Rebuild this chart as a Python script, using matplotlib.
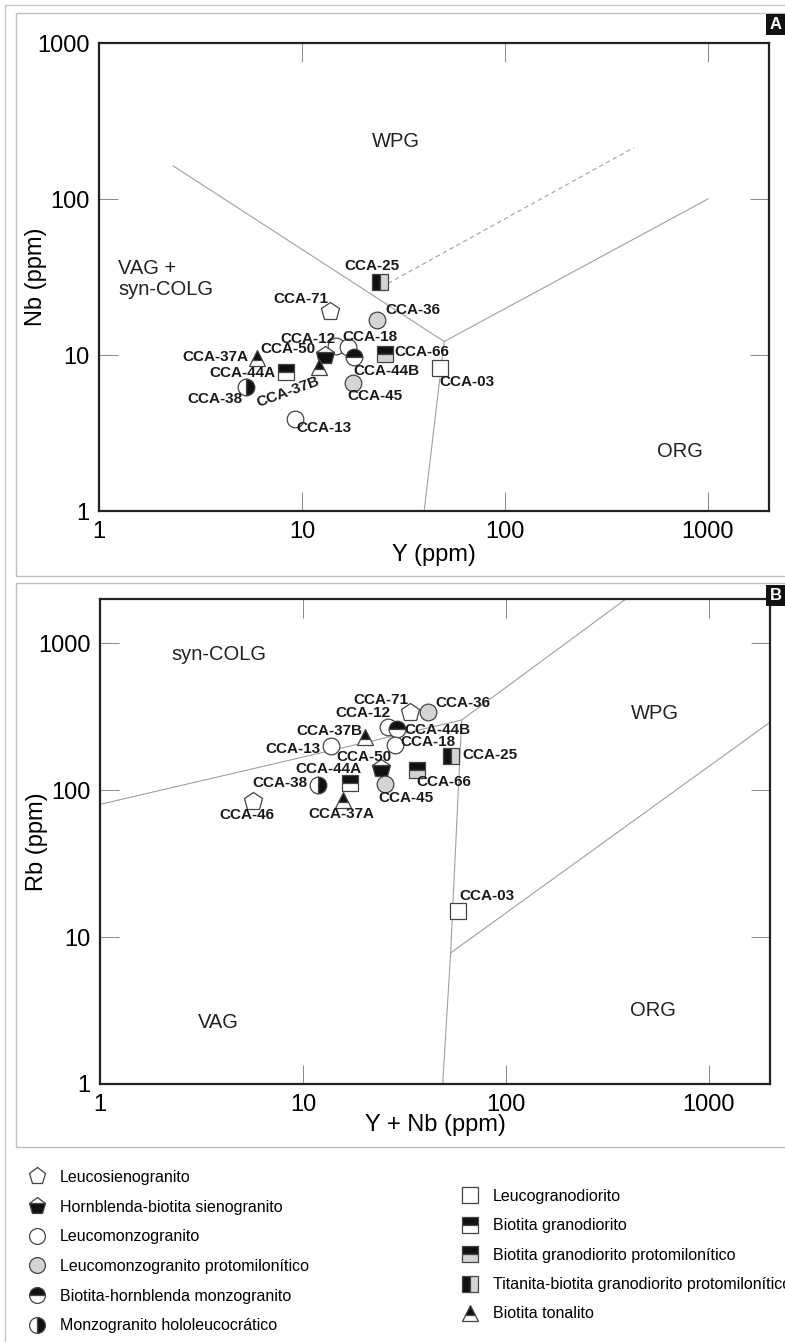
import matplotlib
matplotlib.use("Agg")
import matplotlib.pyplot as plt
from matplotlib import font_manager
from matplotlib.lines import Line2D
from matplotlib.patches import Rectangle
from matplotlib.ticker import FixedLocator, FixedFormatter, NullLocator

plt.rcParams['font.family'] = ['Liberation Sans', 'DejaVu Sans']

installed = {f.name for f in font_manager.fontManager.ttflist}
if 'Liberation Sans Narrow' in installed:
    region_font, region_size = 'Liberation Sans Narrow', 17
else:
    region_font, region_size = 'Liberation Sans', 14.5

# ---- rock types (legend order) ----
rock_names = ['Leucosienogranito', 'Hornblenda-biotita sienogranito', 'Leucomonzogranito',
              'Leucomonzogranito protomilonítico', 'Biotita-hornblenda monzogranito',
              'Monzogranito hololeucocrático', 'Leucogranodiorito', 'Biotita granodiorito',
              'Biotita granodiorito protomilonítico', 'Titanita-biotita granodiorito protomilonítico',
              'Biotita tonalito']

# sample -> rock type index
sample_type = {'CCA-71': 0, 'CCA-46': 0, 'CCA-50': 1, 'CCA-12': 2, 'CCA-18': 2, 'CCA-13': 2,
               'CCA-36': 3, 'CCA-45': 3, 'CCA-44B': 4, 'CCA-38': 5, 'CCA-03': 6,
               'CCA-44A': 7, 'CCA-66': 8, 'CCA-25': 9, 'CCA-37A': 10, 'CCA-37B': 10}

# ---- panel A: Nb vs Y ----
samples_a = ['CCA-25', 'CCA-71', 'CCA-36', 'CCA-12', 'CCA-18', 'CCA-50', 'CCA-37A', 'CCA-44A',
             'CCA-37B', 'CCA-44B', 'CCA-66', 'CCA-03', 'CCA-38', 'CCA-45', 'CCA-13']
y_a = [24.2, 13.8, 23.3, 14.7, 16.9, 13.0, 6.0, 8.3, 12.2, 18.0, 25.6, 47.8, 5.3, 17.9, 9.2]
nb_a = [29.2, 19.1, 16.8, 11.4, 11.2, 10.0, 9.5, 7.8, 8.4, 9.7, 10.1, 8.3, 6.2, 6.6, 3.9]

# ---- panel B: Rb vs Y+Nb ----
samples_b = ['CCA-71', 'CCA-36', 'CCA-12', 'CCA-44B', 'CCA-37B', 'CCA-13', 'CCA-18', 'CCA-25',
             'CCA-50', 'CCA-66', 'CCA-44A', 'CCA-38', 'CCA-45', 'CCA-46', 'CCA-37A', 'CCA-03']
ynb_b = [33.7, 41.3, 26.2, 28.9, 20.3, 13.7, 28.5, 53.8, 24.1, 36.6, 17.1, 11.9, 25.3, 5.7, 15.8, 57.8]
rb_b = [338, 341, 269, 261, 230, 199, 203, 170, 141, 138, 111, 109, 110, 85, 86, 15.1]

# ---- discrimination boundaries (Pearce et al. 1984) ----
a_lines_x = [[2.32, 50.2], [50.2, 1000], [50.2, 40]]
a_lines_y = [[163, 12.2], [12.2, 100], [12.2, 1]]
a_dash_x = [26.6, 433]
a_dash_y = [28.8, 214]
b_lines_x = [[1, 60.5], [60.5, 390], [60.5, 53.4, 48.8], [53.4, 2000]]
b_lines_y = [[80, 300], [300, 2000], [300, 7.8, 1], [7.8, 290]]

a_regions = ['WPG', 'VAG +\nsyn-COLG', 'ORG']
a_region_x = [29, 1.24, 729]
a_region_y = [235, 30.7, 2.39]
b_regions = ['syn-COLG', 'WPG', 'VAG', 'ORG']
b_region_x = [3.87, 540, 3.81, 530]
b_region_y = [832, 330, 2.64, 3.14]

tick_vals = [1, 10, 100, 1000]
tick_text = ['1', '10', '100', '1000']

# ---- marker styles per rock type ----
GRAY = '#d4d4d4'
styles = [
    dict(marker='p', fillstyle='full', markerfacecolor='white', ms=13.5),
    dict(marker='p', fillstyle='bottom', markerfacecolor='#111111', markerfacecoloralt='white', ms=13.5),
    dict(marker='o', fillstyle='full', markerfacecolor='white', ms=12),
    dict(marker='o', fillstyle='full', markerfacecolor=GRAY, ms=12),
    dict(marker='o', fillstyle='top', markerfacecolor='#111111', markerfacecoloralt='white', ms=12),
    dict(marker='o', fillstyle='right', markerfacecolor='#111111', markerfacecoloralt='white', ms=12),
    dict(marker='s', fillstyle='full', markerfacecolor='white', ms=11.5),
    dict(marker='s', fillstyle='top', markerfacecolor='#111111', markerfacecoloralt='white', ms=11.5),
    dict(marker='s', fillstyle='top', markerfacecolor='#111111', markerfacecoloralt=GRAY, ms=11.5),
    dict(marker='s', fillstyle='left', markerfacecolor='#111111', markerfacecoloralt=GRAY, ms=11.5),
    dict(marker='^', fillstyle='top', markerfacecolor='#111111', markerfacecoloralt='white', ms=12),
]

# label offsets in pixels (dx, dy up), rotation
off_a = {'CCA-25': (-8, 16), 'CCA-71': (-29, 12), 'CCA-36': (36, 10), 'CCA-12': (-28, 7),
         'CCA-18': (22, 10), 'CCA-50': (-37, 6), 'CCA-37A': (-42, 1), 'CCA-44A': (-43, -1),
         'CCA-37B': (-31, -25), 'CCA-44B': (33, -14), 'CCA-66': (37, 2), 'CCA-03': (27, -14),
         'CCA-38': (-31, -12), 'CCA-45': (22, -13), 'CCA-13': (29, -9)}
off_b = {'CCA-71': (-29, 12), 'CCA-36': (35, 9), 'CCA-12': (-25, 14), 'CCA-44B': (41, -1),
         'CCA-37B': (-36, 6), 'CCA-13': (-38, -3), 'CCA-18': (33, 3), 'CCA-25': (39, 1),
         'CCA-50': (-17, 11), 'CCA-66': (26, -12), 'CCA-44A': (-22, 14), 'CCA-38': (-38, 2),
         'CCA-45': (21, -14), 'CCA-46': (-7, -14), 'CCA-37A': (-2, -14), 'CCA-03': (29, 15)}
rot_a = {'CCA-37B': 20}

W, H = 785, 1342
fig = plt.figure(figsize=(W / 100, H / 100), dpi=100)


def px_axes(l, t, r, b):
    return fig.add_axes([l / W, 1 - b / H, (r - l) / W, (b - t) / H])


def style_axes(ax, ylim):
    ax.set_xscale('log')
    ax.set_yscale('log')
    ax.set_xlim(1, 2000)
    ax.set_ylim(*ylim)
    for axis in (ax.xaxis, ax.yaxis):
        axis.set_major_locator(FixedLocator(tick_vals))
        axis.set_major_formatter(FixedFormatter(tick_text))
        axis.set_minor_locator(NullLocator())
    ax.tick_params(direction='in', length=14, width=0.7, color='#888888', top=True, right=True,
                   labelsize=17, pad=7)
    for s in ax.spines.values():
        s.set_linewidth(1.6)
        s.set_color('#222222')


def draw_points(ax, names, xs, ys, offsets, rots):
    for name, x, y in zip(names, xs, ys):
        st = dict(styles[sample_type[name]])
        ax.plot([x], [y], linestyle='none', markeredgecolor='#444444', markeredgewidth=0.9,
                zorder=4, **st)
        dx, dy = offsets[name]
        ax.annotate(name, (x, y), xytext=(dx * 0.72, dy * 0.72), textcoords='offset points',
                    ha='center', va='center', fontsize=11, fontweight='bold', color='#1a1a1a',
                    rotation=rots.get(name, 0), zorder=5)


line_kw = dict(color='#a0a0a0', lw=0.8, zorder=2)

# panel A
axA = px_axes(99, 43, 769, 511)
style_axes(axA, (1, 1000))
for xs, ys in zip(a_lines_x, a_lines_y):
    axA.plot(xs, ys, **line_kw)
axA.plot(a_dash_x, a_dash_y, ls=(0, (4, 3)), **line_kw)
for t, x, y in zip(a_regions, a_region_x, a_region_y):
    ha = 'left' if t.startswith('VAG') else 'center'
    axA.text(x, y, t, ha=ha, va='center', fontsize=region_size, family=region_font,
             linespacing=1.15, color='#222222')
draw_points(axA, samples_a, y_a, nb_a, off_a, rot_a)
axA.set_xlabel('Y (ppm)', fontsize=17)
axA.set_ylabel('Nb (ppm)', fontsize=17)
axA.xaxis.set_label_coords(0.5, -0.07)
axA.yaxis.set_label_coords(-0.078, 0.5)

# panel B
axB = px_axes(100, 599, 770, 1084)
style_axes(axB, (1, 2000))
for xs, ys in zip(b_lines_x, b_lines_y):
    axB.plot(xs, ys, **line_kw)
for t, x, y in zip(b_regions, b_region_x, b_region_y):
    axB.text(x, y, t, ha='center', va='center', fontsize=region_size, family=region_font,
             color='#222222')
draw_points(axB, samples_b, ynb_b, rb_b, off_b, {})
axB.set_xlabel('Y + Nb (ppm)', fontsize=17)
axB.set_ylabel('Rb (ppm)', fontsize=17)
axB.xaxis.set_label_coords(0.5, -0.062)
axB.yaxis.set_label_coords(-0.078, 0.5)

# panel frames and outer border
for (t, b) in [(13, 576), (583, 1147)]:
    fig.add_artist(Rectangle((16 / W, 1 - b / H), (W + 10 - 16) / W, (b - t) / H,
                             transform=fig.transFigure, fill=False, ec='#c0c0c0', lw=1.0))
fig.add_artist(Line2D([5 / W, 5 / W], [0, 1 - 5 / H], transform=fig.transFigure, color='#c8c8c8', lw=1))
fig.add_artist(Line2D([5 / W, 1], [1 - 5 / H, 1 - 5 / H], transform=fig.transFigure, color='#c8c8c8', lw=1))

# panel letters
for letter, (t, b) in [('A', (14, 35)), ('B', (585, 606))]:
    fig.add_artist(Rectangle((766 / W, 1 - b / H), 20 / W, (b - t) / H, transform=fig.transFigure,
                             fc='#111111', ec='none'))
    fig.text(776 / W, 1 - (t + b) / 2 / H, letter, color='white', fontsize=12, fontweight='bold',
             ha='center', va='center')

# legend
handles = [Line2D([], [], linestyle='none', markeredgecolor='#444444', markeredgewidth=0.9, **st)
           for st in styles]
leg_kw = dict(frameon=False, fontsize=11.5, handlelength=1.2, handletextpad=0.85, borderpad=0,
              borderaxespad=0, markerscale=0.95, loc='upper left')
fig.legend(handles[:6], rock_names[:6], bbox_to_anchor=(27 / W, 1 - 1170 / H), labelspacing=0.92,
           **leg_kw)
fig.legend(handles[6:], rock_names[6:], bbox_to_anchor=(460 / W, 1 - 1189 / H), labelspacing=0.9,
           **leg_kw)

fig.savefig('out.png', dpi=100)
